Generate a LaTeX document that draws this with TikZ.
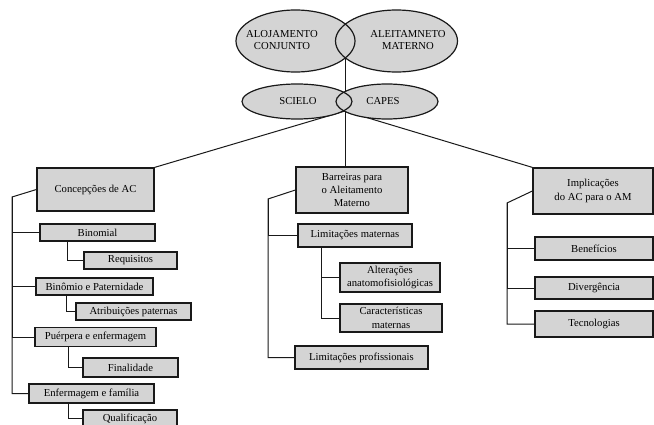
\documentclass[tikz,border=0pt]{standalone}
\usepackage{fontspec}
\setmainfont{Liberation Serif}
\usepackage{tikz}

\tikzset{
  boxnode/.style={draw=black!90, line width=0.9pt, fill=black!17, inner sep=1pt,
    align=center, font=\fontsize{8}{10}\selectfont},
  boxsize/.style 2 args={minimum width=#1*0.75pt, minimum height=#2*0.75pt},
  ellfill/.style={fill=black!17},
  elltext/.style={align=center, font=\fontsize{8}{9.5}\selectfont},
  conn/.style={draw=black!90, line width=0.75pt}
}

\begin{document}
\begin{tikzpicture}[x=0.75pt,y=0.75pt,yscale=-1,xscale=1]
\useasboundingbox (0,0) rectangle (654,425);

% Left column
\node[boxnode, boxsize={117}{43}] (conc) at (95.5,189.5) {Concepções de AC};
\node[boxnode, boxsize={115}{17}] (bin) at (97.5,232.5) {Binomial};
\node[boxnode, boxsize={93}{17}] (req) at (130.5,260.5) {Requisitos};
\node[boxnode, boxsize={117}{17}] (binp) at (94.5,286.5) {Binômio e Paternidade};
\node[boxnode, boxsize={115}{17}] (atr) at (133.5,311.5) {Atribuições paternas};
\node[boxnode, boxsize={121}{19}] (puer) at (95.5,337) {Puérpera e enfermagem};
\node[boxnode, boxsize={95}{19}] (fin) at (130.5,367.5) {Finalidade};
\node[boxnode, boxsize={125}{19}] (enf) at (91.5,393.5) {Enfermagem e família};
\node[boxnode, boxsize={94}{17}] (qual) at (130,418.5) {Qualificação};

% Middle column
\node[boxnode, boxsize={112}{46}] (barr) at (352,190) {Barreiras para\\o Aleitamento\\Materno};
\node[boxnode, boxsize={114}{23}] (limm) at (355,235.5) {Limitações maternas};
\node[boxnode, boxsize={100}{29}] (alt) at (390,277.5) {Alterações\\anatomofisiológicas};
\node[boxnode, boxsize={102}{28}] (car) at (391,318) {Características\\maternas};
\node[boxnode, boxsize={133}{23}] (limp) at (361.5,357.5) {Limitações profissionais};

% Right column
\node[boxnode, boxsize={120}{46}] (impl) at (593,191) {Implicações\\do AC para o AM};
\node[boxnode, boxsize={118}{23}] (ben) at (594,248.5) {Benefícios};
\node[boxnode, boxsize={118}{22}] (div) at (594,288) {Divergência};
\node[boxnode, boxsize={118}{26}] (tec) at (594,324) {Tecnologias};

% Junction points
\coordinate (top) at (345,58);
\coordinate (hub) at (345,111);
\coordinate (lc) at (12,197);
\coordinate (bj) at (67,241);
\coordinate (pj) at (66,295);
\coordinate (uj) at (68,346.5);
\coordinate (ej) at (68,403);
\coordinate (mc) at (268,199);
\coordinate (lj) at (321,247);
\coordinate (rc) at (507,203);

% Connectors
\draw[conn] (top) -- (top |- barr.north);
\draw[conn] (hub) -- (conc.north east);
\draw[conn] (hub) -- (impl.north west);

\draw[conn] (conc.west) -- (lc) |- (enf.west);
\draw[conn] (lc) |- (bin.west);
\draw[conn] (lc) |- (binp.west);
\draw[conn] (lc) |- (puer.west);
\draw[conn] (bj) |- (req.west);
\draw[conn] (pj) |- (atr.west);
\draw[conn] (uj) |- (fin.west);
\draw[conn] (ej) |- (qual.west);

\draw[conn] (barr.west) -- (mc) |- (limp.west);
\draw[conn] (mc) |- (limm.west);
\draw[conn] (lj) |- (car.west);
\draw[conn] (lj) |- (alt.west);

\draw[conn] (impl.west) -- (rc) |- (tec.west);
\draw[conn] (rc) |- (ben.west);
\draw[conn] (rc) |- (div.west);

% Ellipses: fills first, outlines after
\fill[ellfill] (295.5,41) ellipse (59.5 and 31);
\fill[ellfill] (396.5,41) ellipse (61 and 31);
\fill[ellfill] (297,101.5) ellipse (55 and 17.5);
\fill[ellfill] (387,101.5) ellipse (51 and 17.5);
\draw[conn, line width=0.9pt] (295.5,41) ellipse (59.5 and 31);
\draw[conn, line width=0.9pt] (396.5,41) ellipse (61 and 31);
\draw[conn, line width=0.9pt] (297,101.5) ellipse (55 and 17.5);
\draw[conn, line width=0.9pt] (387,101.5) ellipse (51 and 17.5);

% Text Node
\node[elltext] (aloj) at (282,40) {ALOJAMENTO\\CONJUNTO};
% Text Node
\node[elltext] (aleit) at (408,40) {ALEITAMNETO\\MATERNO};
% Text Node
\node[elltext] (sci) at (298,101.5) {SCIELO};
% Text Node
\node[elltext] (cap) at (383,101.5) {CAPES};

\end{tikzpicture}
\end{document}
